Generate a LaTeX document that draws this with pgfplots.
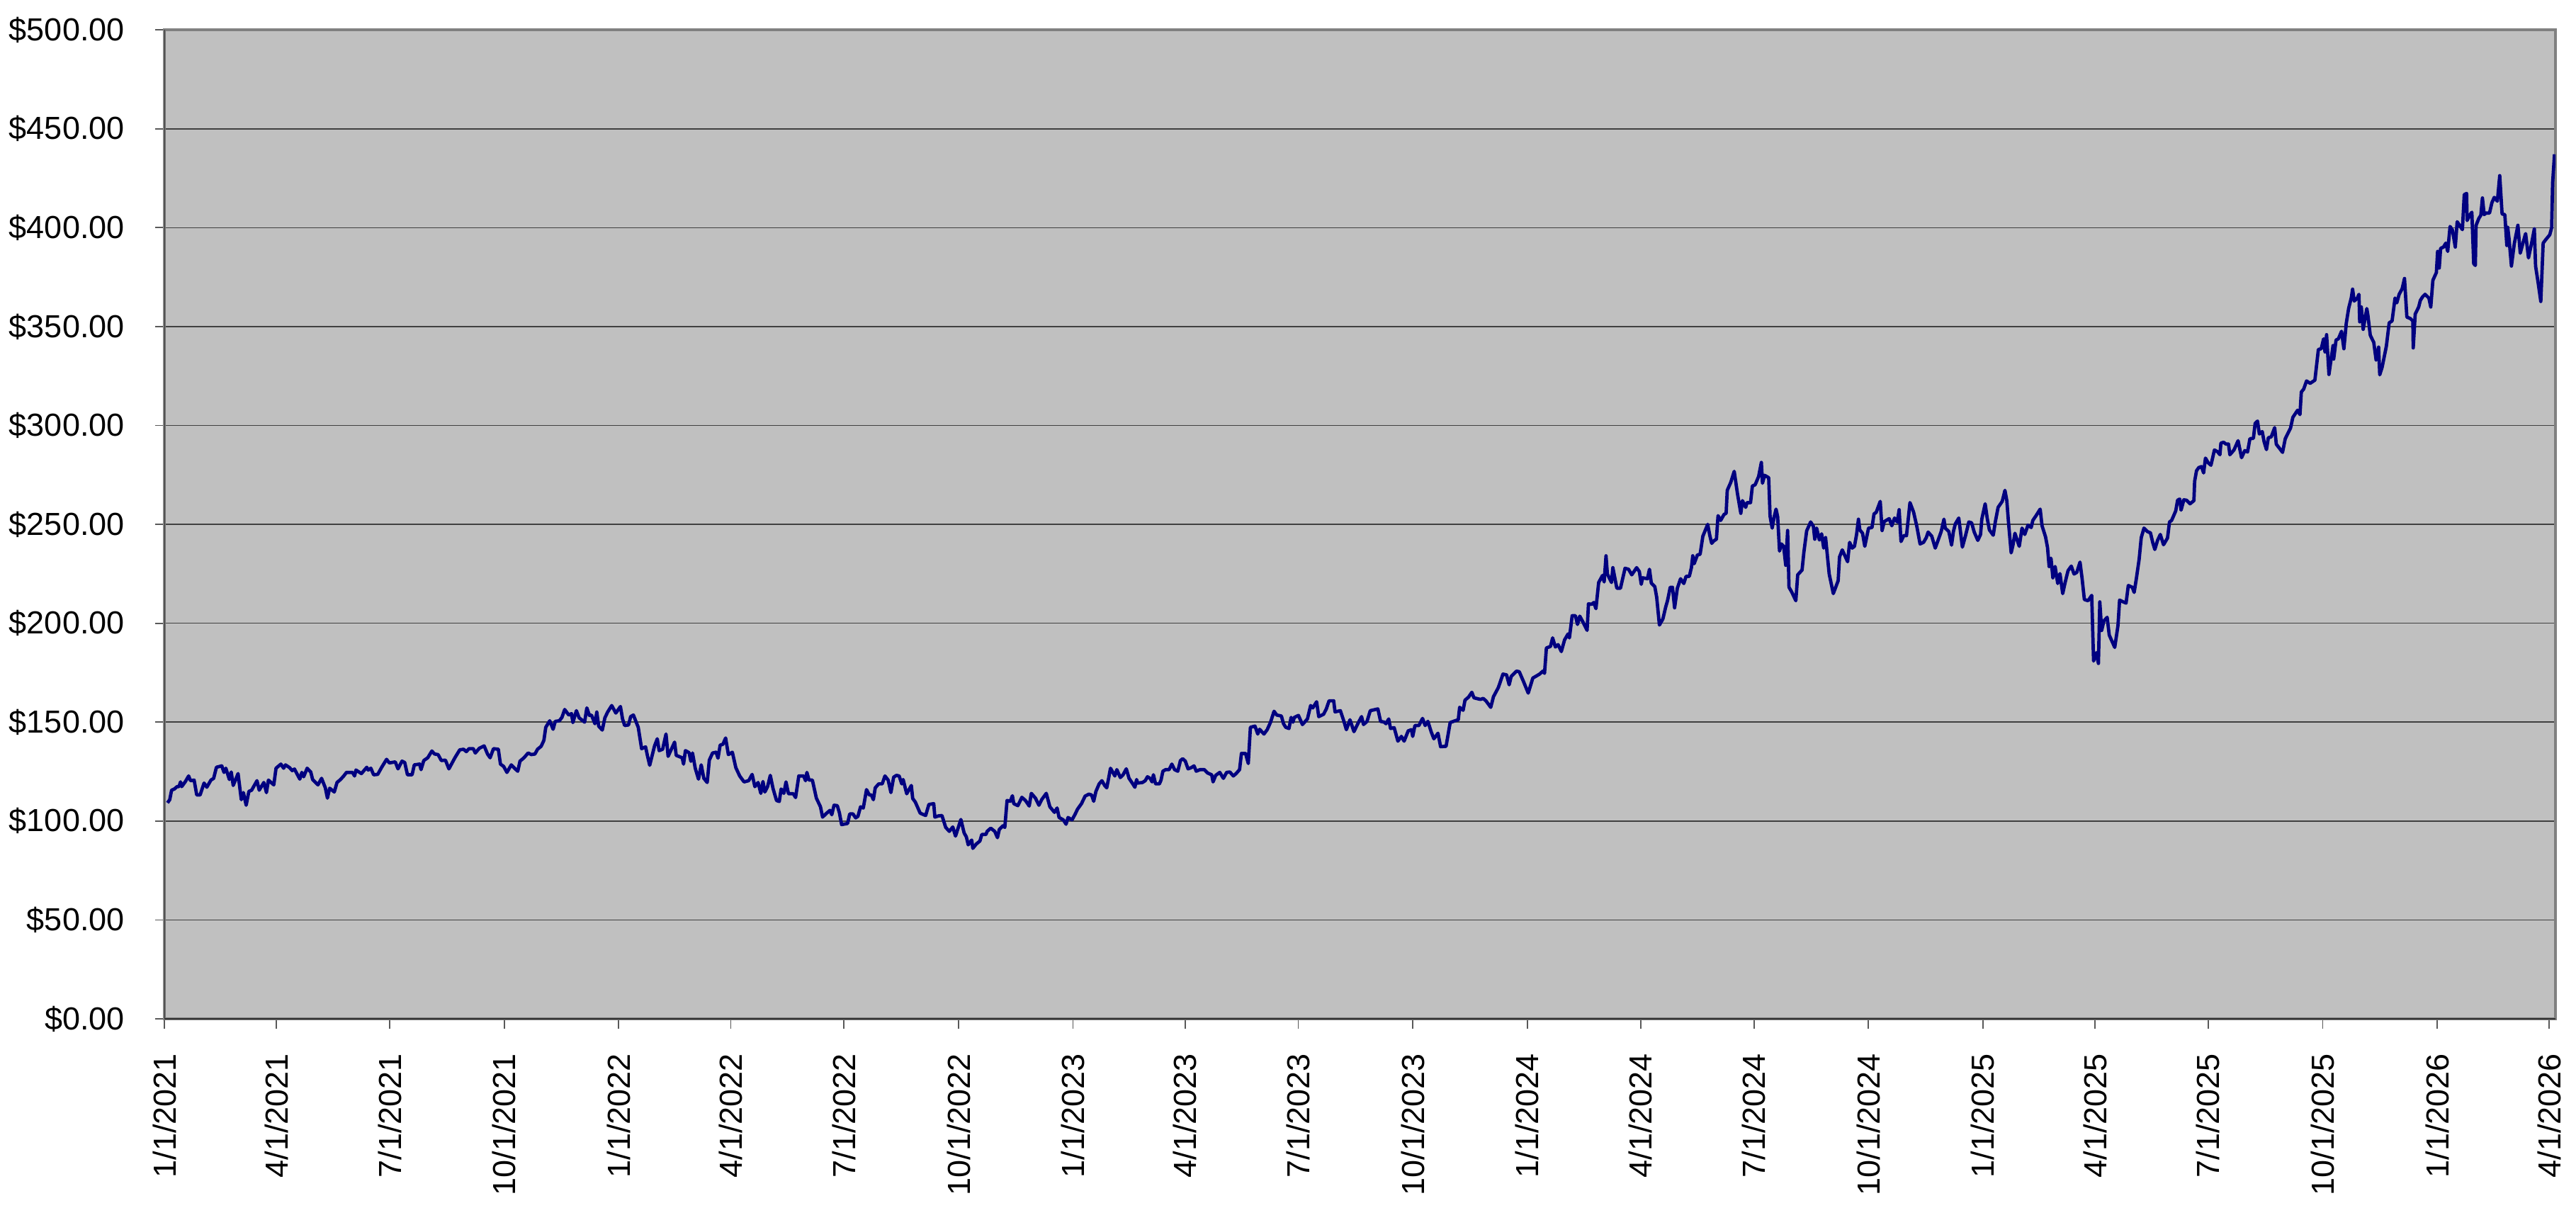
\documentclass[border=0pt]{standalone}
\usepackage{fontspec}
\setmainfont{Liberation Sans}
\usepackage{pgfplots}
\pgfplotsset{compat=1.18}
\definecolor{plotbg}{HTML}{C0C0C0}
\definecolor{navyline}{HTML}{000080}
\definecolor{gridc}{HTML}{404040}
\definecolor{framec}{HTML}{808080}
\begin{document}
\begin{tikzpicture}
\begin{axis}[
  at={(0pt,0pt)}, anchor=south west,
  scale only axis,
  width=750pt, height=310.2pt,
  xmin=0, xmax=1921, ymin=0, ymax=500,
  axis background/.style={fill=plotbg},
  axis line style={draw=framec, line width=0.8pt},
  ymajorgrids,
  major grid style={draw=gridc, line width=0.35pt},
  tick align=outside,
  major tick length=3pt,
  tick style={draw=black!65, line width=0.4pt},
  xtick pos=bottom, ytick pos=left,
  ytick={0,50,100,150,200,250,300,350,400,450,500},
  yticklabels={\$0.00,\$50.00,\$100.00,\$150.00,\$200.00,\$250.00,\$300.00,\$350.00,\$400.00,\$450.00,\$500.00},
  xtick={0,90,181,273,365,455,546,638,730,820,911,1003,1095,1186,1277,1369,1461,1551,1642,1734,1826,1916},
  xticklabels={1/1/2021,4/1/2021,7/1/2021,10/1/2021,1/1/2022,4/1/2022,7/1/2022,10/1/2022,1/1/2023,4/1/2023,7/1/2023,10/1/2023,1/1/2024,4/1/2024,7/1/2024,10/1/2024,1/1/2025,4/1/2025,7/1/2025,10/1/2025,1/1/2026,4/1/2026},
  ticklabel style={font=\fontsize{10}{12}\selectfont, text=black},
  xticklabel style={rotate=90, anchor=east},
  xticklabel shift=4.4pt,
  yticklabel shift=6pt,
  clip=true,
]
\addplot[navyline, line width=1.05pt, line join=round, mark=none] table {
x y
2.5 109.2
4.3 110.8
5.8 115.6
8.0 116.2
10.2 117.4
11.7 117.4
13.0 119.8
13.9 117.4
16.7 119.8
19.5 122.8
21.0 120.4
23.9 120.7
26.0 113.2
28.7 113.2
31.9 119.2
34.1 117.1
37.4 120.7
39.6 121.6
41.8 127.2
46.1 127.9
47.9 124.6
49.4 126.7
52.2 121.0
53.7 124.8
55.3 118.0
59.2 124.0
61.8 110.8
63.5 114.4
65.7 108.0
67.9 115.0
70.1 115.6
74.4 120.4
76.2 115.6
79.9 119.5
82.0 114.4
83.6 120.7
87.9 118.3
89.7 126.7
93.6 128.8
95.8 126.7
97.3 128.4
100.6 127.0
102.7 125.5
104.5 126.3
108.8 121.2
110.4 124.6
111.9 122.4
114.7 126.7
117.6 124.8
119.1 121.0
123.4 118.3
126.3 121.6
129.3 116.8
131.0 111.6
132.8 116.6
136.5 114.7
138.7 119.5
141.5 121.0
144.1 122.8
146.3 124.6
151.1 124.6
152.8 122.8
153.9 125.8
158.3 124.0
162.6 127.2
163.7 125.8
165.9 126.7
168.1 123.4
171.4 123.6
174.6 127.2
178.5 131.2
180.7 129.4
185.5 129.9
187.7 126.4
190.9 130.3
193.1 129.6
195.3 123.4
199.0 123.4
200.8 128.4
205.1 128.8
206.2 126.0
208.4 130.6
211.6 132.0
214.9 135.4
217.1 133.9
219.9 133.6
222.5 130.6
225.8 130.8
228.6 126.4
233.4 132.0
237.3 136.0
240.4 136.3
242.6 135.1
244.7 136.6
248.2 136.6
249.8 134.4
253.0 136.8
256.9 138.0
259.6 133.9
261.7 132.0
264.4 136.6
268.3 136.3
270.0 128.8
272.6 127.6
275.2 124.6
278.7 128.4
281.3 126.7
283.9 125.2
285.7 130.3
288.9 132.0
292.2 134.4
294.8 133.6
297.7 133.9
299.8 136.3
302.7 137.8
304.9 140.8
306.4 147.4
309.6 150.7
312.3 146.4
314.0 150.4
317.3 150.7
319.4 152.4
321.6 156.4
324.9 153.6
327.1 154.3
328.2 149.8
331.0 155.8
333.2 152.2
337.6 150.0
339.4 157.2
341.5 153.4
343.1 153.6
345.9 149.2
347.4 155.1
348.9 148.0
351.8 146.0
353.9 152.2
356.1 155.1
359.4 158.4
362.7 154.6
366.4 157.9
368.1 151.6
369.8 148.3
372.9 148.6
374.6 152.8
376.8 153.6
380.7 147.4
383.4 136.6
386.6 137.5
388.1 133.0
389.9 128.2
393.8 138.0
396.0 141.6
397.5 135.6
400.3 136.3
403.0 144.0
404.7 132.7
409.9 139.9
411.2 133.2
416.0 132.0
417.1 128.8
418.6 135.6
421.5 134.6
423.0 130.2
424.3 134.4
426.5 126.7
429.1 121.2
431.3 128.4
433.4 121.6
436.1 119.5
437.8 130.8
440.4 134.4
443.2 134.8
444.8 131.8
446.5 138.4
448.7 138.8
450.9 142.0
453.1 133.6
456.3 134.8
459.1 127.0
462.2 122.8
465.7 119.8
469.4 120.4
472.2 123.6
474.4 117.4
477.0 119.5
479.2 114.0
480.9 120.0
482.4 114.7
484.6 117.4
486.8 123.1
489.0 116.4
491.8 110.4
494.0 109.9
495.5 116.2
497.7 114.0
499.4 119.8
501.4 113.8
505.3 113.8
507.1 111.9
509.7 122.8
513.6 122.8
515.1 120.4
516.2 124.6
517.9 120.7
520.6 120.7
523.8 111.6
527.1 107.2
528.8 102.0
531.9 103.9
534.7 105.4
536.2 103.2
538.0 108.0
540.6 107.8
542.3 104.2
544.1 98.2
548.9 98.8
550.6 103.6
553.2 103.6
555.4 101.6
557.2 102.4
559.3 107.2
561.5 106.6
564.1 115.9
566.3 113.2
568.0 113.2
569.6 110.8
571.1 116.8
573.9 118.8
576.7 118.8
578.9 122.8
581.5 120.7
583.7 114.4
585.9 122.2
588.1 123.1
590.3 122.8
592.4 118.8
593.5 121.0
596.4 113.8
600.1 118.0
601.2 111.4
603.3 109.6
607.2 104.0
611.6 102.8
614.2 108.4
618.1 108.8
619.0 102.0
621.8 102.6
624.7 102.8
627.7 96.8
630.6 94.8
633.4 97.0
635.6 92.4
639.9 100.8
642.5 94.0
644.3 92.0
645.8 88.0
648.6 90.4
649.5 86.2
652.3 88.4
655.2 89.9
656.7 93.2
660.0 93.2
661.0 94.8
663.9 96.4
667.1 94.8
669.3 91.6
670.8 95.8
673.7 97.6
675.2 96.8
677.0 110.4
679.6 110.0
681.3 112.8
682.4 108.8
685.7 107.8
688.9 112.0
691.8 110.4
694.8 107.6
696.5 114.0
699.8 111.6
702.6 108.0
704.8 110.8
708.5 114.0
711.4 107.2
715.1 104.4
717.2 106.6
718.8 101.8
722.2 100.6
724.4 98.4
726.0 101.8
729.2 100.6
731.8 103.6
733.6 106.0
736.8 108.8
739.7 112.6
742.7 113.6
744.9 113.2
746.6 110.0
748.4 115.0
751.0 118.8
753.2 120.4
755.4 118.0
757.1 116.8
758.6 121.6
760.1 126.7
763.6 122.8
765.2 126.0
768.0 122.0
770.2 123.4
772.8 126.4
775.0 121.6
777.6 119.2
779.7 117.1
781.1 121.0
781.9 119.2
785.8 119.5
788.0 120.4
789.8 122.4
791.9 121.6
793.5 119.8
794.6 123.4
796.3 118.8
799.4 118.8
800.7 120.7
802.2 125.2
804.4 126.0
807.2 126.0
809.4 128.8
811.6 126.0
814.2 125.2
816.3 130.6
818.1 131.5
820.2 130.3
822.4 126.4
825.0 127.0
827.2 127.9
829.0 125.2
832.0 126.0
835.5 126.0
838.1 124.3
841.4 123.4
842.5 119.8
844.6 123.1
847.9 124.6
850.8 121.6
853.4 124.6
856.0 124.8
858.8 122.8
861.0 124.0
863.8 126.0
865.3 134.2
868.6 134.2
870.8 129.1
872.5 147.4
876.2 148.0
878.4 144.0
879.9 146.4
883.4 144.0
886.0 146.2
888.7 150.0
891.5 155.5
893.7 153.6
897.4 153.1
899.1 149.2
900.9 147.4
903.5 146.8
905.2 152.4
906.7 150.0
907.8 152.4
911.1 153.4
914.3 148.8
918.3 151.6
920.9 158.4
922.6 157.2
925.7 160.3
927.4 152.8
931.3 154.0
933.5 156.7
935.7 160.8
939.4 160.8
940.5 155.2
944.8 155.8
947.5 150.7
949.6 146.2
952.5 151.2
955.7 145.2
959.0 149.5
961.8 152.8
963.4 148.8
966.2 150.4
968.8 155.8
974.9 156.7
977.1 150.4
980.1 150.0
981.4 149.2
983.6 151.6
985.1 146.8
988.0 147.2
991.0 140.4
993.8 142.8
996.0 140.4
999.3 145.6
1001.9 146.2
1002.9 142.8
1004.7 148.3
1007.9 148.3
1010.8 151.9
1012.9 148.3
1015.1 150.4
1017.7 145.2
1019.9 141.6
1023.2 144.4
1025.3 137.6
1029.7 137.8
1033.0 149.8
1036.9 150.7
1039.5 151.2
1040.6 157.5
1043.4 156.0
1044.9 161.1
1047.8 162.7
1050.4 165.1
1052.1 162.3
1057.4 161.5
1059.5 162.0
1061.7 160.8
1065.6 157.5
1067.8 162.9
1071.7 167.5
1075.4 174.3
1078.3 173.9
1080.4 168.9
1082.0 173.1
1086.3 175.8
1088.5 175.5
1091.8 170.7
1095.7 164.7
1099.4 172.3
1102.7 173.5
1104.8 174.3
1107.5 175.8
1108.8 174.7
1110.3 187.5
1113.6 188.3
1115.3 192.6
1117.5 188.0
1119.7 189.2
1122.3 185.7
1124.9 191.6
1127.7 194.6
1128.8 192.6
1131.0 203.8
1133.6 203.8
1135.3 199.4
1137.1 203.6
1139.7 200.6
1143.0 196.4
1144.1 209.8
1146.7 209.6
1148.4 210.5
1150.1 207.4
1152.3 220.6
1155.4 224.2
1156.7 220.9
1158.2 234.1
1159.3 224.9
1162.6 220.6
1163.7 228.1
1166.9 217.7
1169.8 217.7
1173.5 227.8
1176.3 227.3
1178.9 224.5
1182.8 228.1
1185.0 226.1
1186.5 219.7
1187.6 223.0
1191.5 222.5
1193.1 227.3
1194.6 220.3
1197.4 218.5
1198.9 213.2
1201.1 199.1
1203.9 202.2
1206.1 208.1
1207.6 211.4
1209.8 218.2
1211.6 218.2
1213.3 207.8
1215.5 217.7
1218.1 222.5
1220.7 220.1
1222.5 223.7
1225.1 223.7
1226.8 228.1
1227.9 234.1
1229.0 230.1
1231.6 234.5
1233.8 234.9
1236.0 244.0
1239.9 250.0
1241.6 244.3
1243.1 240.4
1244.7 241.6
1246.9 242.5
1248.2 254.4
1250.3 252.0
1253.0 255.0
1254.7 255.6
1255.6 267.2
1258.4 271.2
1261.2 276.8
1263.8 265.5
1266.5 255.6
1267.8 262.0
1270.4 258.6
1271.5 261.0
1274.3 261.0
1275.8 269.4
1278.0 270.0
1280.8 274.2
1283.0 281.3
1283.9 270.8
1285.6 274.8
1288.9 273.6
1290.0 254.1
1291.7 248.1
1293.3 253.8
1294.8 257.7
1296.1 253.8
1297.6 236.5
1299.1 240.1
1300.9 238.9
1302.6 229.3
1304.1 246.9
1305.2 218.2
1307.4 215.8
1310.7 211.4
1312.2 224.5
1315.7 226.9
1317.2 236.1
1319.4 246.7
1322.6 251.2
1324.8 249.0
1325.9 242.5
1327.4 248.1
1329.6 242.1
1331.4 245.2
1333.1 238.0
1334.6 243.3
1337.5 224.9
1340.8 215.0
1344.7 221.5
1345.8 233.5
1348.0 237.1
1352.3 231.1
1353.9 240.9
1356.0 238.0
1357.8 238.9
1359.5 244.9
1361.0 252.6
1362.1 247.2
1364.3 245.5
1366.1 238.9
1369.1 248.1
1371.9 248.4
1373.5 255.3
1375.2 256.0
1378.5 261.6
1380.0 246.9
1381.7 251.4
1385.7 252.9
1387.8 249.3
1390.0 253.2
1392.2 251.2
1393.7 257.4
1395.2 241.3
1397.4 244.3
1399.6 244.3
1402.4 261.0
1405.3 256.2
1407.9 249.0
1410.5 240.1
1413.3 240.9
1415.5 243.3
1417.0 246.1
1419.9 244.0
1422.7 238.0
1425.3 242.5
1427.5 246.4
1429.7 252.6
1430.7 248.1
1433.6 246.4
1435.8 239.5
1437.3 246.4
1438.8 250.2
1441.6 253.2
1444.5 238.5
1447.1 244.5
1449.7 251.2
1451.9 250.8
1454.0 246.1
1456.9 241.9
1459.1 244.9
1460.1 252.6
1462.8 260.4
1464.5 252.9
1466.2 247.2
1469.3 244.5
1471.0 251.4
1473.2 258.6
1476.5 261.6
1478.7 267.2
1480.2 262.0
1481.5 251.4
1483.7 235.6
1485.2 239.7
1486.7 245.5
1490.2 238.9
1492.4 248.1
1494.6 244.9
1497.2 249.6
1499.8 248.4
1501.1 252.0
1503.7 254.4
1507.0 257.7
1508.5 249.3
1511.3 243.7
1512.9 238.3
1514.2 228.7
1515.7 232.9
1517.2 223.0
1519.0 228.7
1521.1 220.1
1522.9 225.1
1525.1 215.0
1527.2 221.0
1529.4 226.6
1532.0 228.9
1534.2 224.9
1536.4 225.7
1539.0 230.9
1540.7 222.5
1542.5 212.0
1545.5 211.4
1548.4 214.1
1549.9 180.9
1552.1 185.1
1553.8 179.7
1554.9 210.8
1556.4 196.4
1558.2 201.2
1560.8 203.0
1562.5 194.0
1566.9 187.8
1569.5 198.8
1570.8 211.7
1573.8 210.8
1576.0 210.2
1577.8 219.1
1581.0 218.2
1582.5 215.6
1584.3 222.7
1586.5 232.3
1588.2 243.3
1590.4 248.1
1593.0 246.4
1595.6 245.7
1597.4 240.9
1599.1 237.3
1601.3 241.9
1603.5 244.9
1606.1 239.7
1609.3 243.1
1610.9 251.2
1612.6 252.0
1615.9 256.8
1617.4 262.2
1619.1 262.8
1620.2 257.2
1622.4 262.4
1624.6 262.2
1627.4 260.4
1630.5 262.0
1631.1 271.8
1632.6 277.1
1634.4 278.7
1636.6 279.2
1638.3 276.0
1639.8 283.5
1642.0 281.1
1644.2 279.9
1647.0 287.6
1649.6 286.7
1651.4 285.2
1652.2 291.1
1654.4 291.5
1656.2 290.6
1658.3 290.6
1659.4 285.2
1662.7 287.6
1666.0 292.3
1668.8 283.7
1671.4 287.3
1673.6 286.6
1675.5 293.3
1678.3 293.5
1679.7 301.0
1681.6 302.2
1683.1 295.7
1685.4 296.9
1686.9 291.8
1688.8 287.8
1690.3 293.8
1692.6 294.2
1695.4 298.9
1696.7 290.5
1699.2 288.5
1701.7 286.4
1703.9 293.3
1708.1 298.6
1710.0 304.1
1713.8 307.7
1715.7 305.5
1716.8 316.9
1718.7 318.4
1721.0 322.5
1723.9 321.3
1727.7 322.9
1730.5 338.4
1732.8 338.8
1734.7 343.8
1735.8 337.2
1737.1 345.9
1739.0 325.8
1742.3 340.4
1742.8 333.6
1744.7 343.2
1746.6 343.8
1749.1 347.6
1751.0 338.8
1752.9 351.6
1754.8 359.1
1757.0 364.7
1758.0 368.9
1759.3 362.9
1761.8 364.4
1763.1 366.3
1763.7 352.4
1765.0 359.9
1766.5 348.6
1769.4 359.1
1770.3 355.7
1772.2 345.6
1775.0 342.0
1776.9 333.0
1778.9 339.6
1779.8 325.6
1781.7 329.4
1785.1 340.0
1787.4 351.9
1789.7 352.8
1792.1 364.4
1793.5 362.0
1795.4 366.3
1797.8 369.1
1799.7 374.3
1801.6 354.8
1804.5 354.0
1806.4 352.8
1806.7 339.2
1808.3 356.3
1811.1 359.9
1812.4 363.2
1814.3 365.1
1816.2 366.3
1819.3 364.4
1820.8 359.9
1822.5 373.4
1825.3 377.3
1826.3 388.0
1827.6 379.6
1828.7 389.5
1831.0 390.2
1832.9 392.2
1834.4 388.0
1836.3 400.6
1838.2 398.8
1840.5 390.2
1842.0 403.0
1843.9 401.2
1846.2 399.0
1847.7 416.7
1849.6 417.3
1850.0 403.6
1851.9 406.2
1853.8 407.8
1855.3 381.8
1856.6 380.9
1857.2 401.2
1859.5 404.8
1861.0 406.2
1862.3 415.0
1863.7 406.6
1865.2 407.4
1868.0 407.4
1869.9 412.6
1871.8 415.3
1874.3 413.4
1876.2 426.3
1878.1 406.9
1880.3 406.6
1881.9 391.0
1882.6 400.2
1883.7 394.3
1885.6 380.6
1887.9 391.9
1890.8 401.2
1892.7 387.1
1895.1 392.8
1897.0 397.0
1899.3 384.7
1902.1 393.1
1904.0 399.4
1905.0 380.6
1907.3 371.1
1909.2 362.7
1911.1 392.2
1913.0 393.8
1916.4 396.4
1917.9 400.0
1918.7 422.7
1920.2 437.1
};
\draw[black!80, line width=0.35pt] (rel axis cs:0,1) -- (rel axis cs:0,0) -- (rel axis cs:1,0);
\end{axis}
\pgfresetboundingbox
\useasboundingbox (-51.56pt,-64.44pt) rectangle (756.44pt,319.56pt);
\end{tikzpicture}
\end{document}
